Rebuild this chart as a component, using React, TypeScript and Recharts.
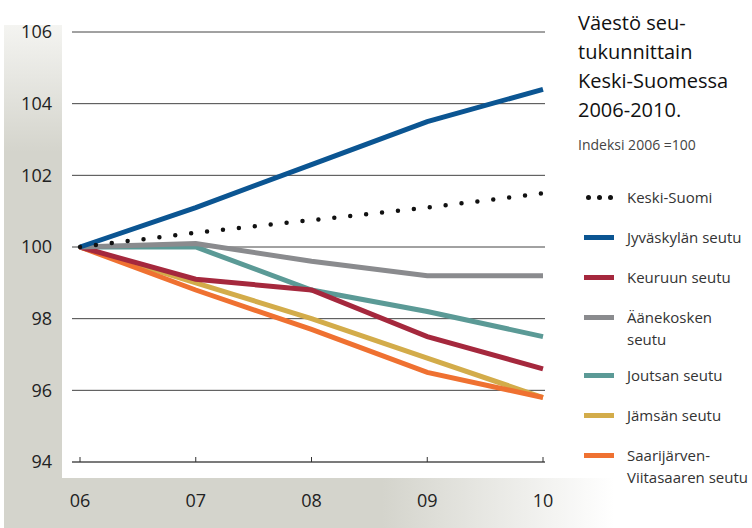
import React from 'react';
import { LineChart, Line, XAxis, YAxis, CartesianGrid } from 'recharts';

const years = ['06', '07', '08', '09', '10'];
const yTicks = [94, 96, 98, 100, 102, 104, 106];

const keskiSuomi = [100, 100.4, 100.75, 101.1, 101.5];
const jyvaskyla = [100, 101.1, 102.3, 103.5, 104.4];
const keuruu = [100, 99.1, 98.8, 97.5, 96.6];
const aanekoski = [100, 100.1, 99.6, 99.2, 99.2];
const joutsa = [100, 100, 98.8, 98.2, 97.5];
const jamsa = [100, 99.0, 98.0, 96.9, 95.8];
const saarijarvi = [100, 98.8, 97.7, 96.5, 95.8];

const data = years.map((y, i) => ({
  year: y,
  keskiSuomi: keskiSuomi[i],
  jyvaskyla: jyvaskyla[i],
  keuruu: keuruu[i],
  aanekoski: aanekoski[i],
  joutsa: joutsa[i],
  jamsa: jamsa[i],
  saarijarvi: saarijarvi[i],
}));

const legendItems = [
  { key: 'keskiSuomi', label: ['Keski-Suomi'], color: '#111', dotted: true },
  { key: 'jyvaskyla', label: ['Jyväskylän seutu'], color: '#0b5592' },
  { key: 'keuruu', label: ['Keuruun seutu'], color: '#a5283d' },
  { key: 'aanekoski', label: ['Äänekosken', 'seutu'], color: '#8a8b8e' },
  { key: 'joutsa', label: ['Joutsan seutu'], color: '#5b9a96' },
  { key: 'jamsa', label: ['Jämsän seutu'], color: '#d3ac4a' },
  { key: 'saarijarvi', label: ['Saarijärven-', 'Viitasaaren seutu'], color: '#ef7131' },
];

const colorOf = (k: string) => legendItems.find(l => l.key === k)!.color;

const FONT = '"Open Sans", "DejaVu Sans", sans-serif';

const XTick = (props: any) => {
  const { x, y, payload } = props;
  return (
    <g>
      <line x1={x} x2={x} y1={y - 5} y2={y} stroke="#333" strokeWidth={1} />
      <text x={x} y={y + 45} textAnchor="middle" fontSize={18} fill="#222" fontFamily={FONT}>
        {payload.value}
      </text>
    </g>
  );
};

const LegendBlock = () => (
  <div style={{ position: 'absolute', left: 582, top: 186, width: 170, fontFamily: FONT, color: '#333', fontSize: 15 }}>
    {legendItems.map(item => (
      <div key={item.key} style={{ display: 'flex', alignItems: 'flex-start', marginBottom: item.label.length > 1 ? 14 : 18 }}>
        <div style={{ width: 45, height: 22, display: 'flex', alignItems: 'center' }}>
          {item.dotted ? (
            <div style={{ display: 'flex', gap: 6, marginLeft: 4 }}>
              {[0, 1, 2].map(d => (
                <div key={d} style={{ width: 5, height: 5, borderRadius: 3, background: '#111' }} />
              ))}
            </div>
          ) : (
            <div style={{ width: 30, height: 5, background: item.color, marginLeft: 2 }} />
          )}
        </div>
        <div style={{ lineHeight: '22px' }}>
          {item.label.map(t => (
            <div key={t}>{t}</div>
          ))}
        </div>
      </div>
    ))}
  </div>
);

export default function App() {
  const drawOrder = ['joutsa', 'jamsa', 'saarijarvi', 'keuruu', 'aanekoski', 'jyvaskyla'];
  return (
    <div style={{ position: 'absolute', left: 0, top: 0, width: 752, height: 528, background: '#fff', overflow: 'hidden' }}>
      <div
        style={{
          position: 'absolute', left: 4, top: 25, width: 58, height: 455,
          background: 'linear-gradient(to bottom, #f4f4f1 0%, #d4d4cc 28%, #d4d4cc 100%)',
        }}
      />
      <div
        style={{
          position: 'absolute', left: 4, top: 478, width: 610, height: 50,
          background: 'linear-gradient(to right, #d4d4cc 0%, #d4d4cc 62%, #ffffff 100%)',
        }}
      />
      <div style={{ position: 'absolute', left: 62, top: 25, width: 500, height: 453, background: '#fff' }} />
      <div
        style={{
          position: 'absolute', left: 578, top: 8, fontFamily: FONT, fontSize: 20,
          lineHeight: '29px', color: '#111',
        }}
      >
        <div>Väestö seu-</div>
        <div>tukunnittain</div>
        <div>Keski-Suomessa</div>
        <div>2006-2010.</div>
        <div style={{ fontSize: 14, color: '#444', marginTop: 6 }}>Indeksi 2006 =100</div>
      </div>
      <LegendBlock />
      <div style={{ position: 'absolute', left: 0, top: 0 }}>
        <LineChart width={752} height={528} data={data} margin={{ top: 32, right: 207, bottom: 0, left: 12 }}>
          <CartesianGrid horizontal vertical={false} stroke="#444" strokeWidth={1} />
          <XAxis
            dataKey="year"
            padding={{ left: 8, right: 2 }}
            axisLine={{ stroke: '#555' }}
            tickLine={false}
            tickSize={0}
            tickMargin={0}
            tick={<XTick />}
            height={66}
          />
          <YAxis
            domain={[94, 106]}
            ticks={yTicks}
            axisLine={false}
            tickLine={false}
            tickSize={0}
            tickMargin={20}
            width={60}
            tick={{ fontSize: 18, fill: '#222', fontFamily: FONT }}
          />
          {drawOrder.map(k => (
            <Line
              key={k}
              dataKey={k}
              stroke={colorOf(k)}
              strokeWidth={5}
              dot={false}
              activeDot={false}
              isAnimationActive={false}
              type="linear"
            />
          ))}
          <Line
            dataKey="keskiSuomi"
            stroke="#111"
            strokeWidth={4.5}
            strokeDasharray="0 16"
            strokeLinecap="round"
            dot={false}
            activeDot={false}
            isAnimationActive={false}
            type="linear"
          />
        </LineChart>
      </div>
    </div>
  );
}
